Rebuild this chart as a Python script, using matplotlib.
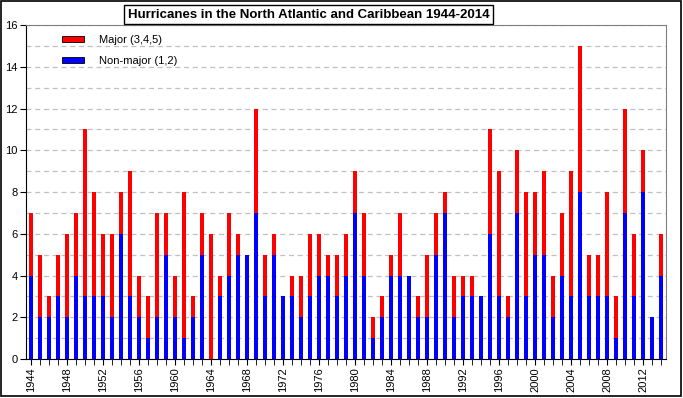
import numpy as np
import matplotlib
matplotlib.use("Agg")
import matplotlib.pyplot as plt
from matplotlib.patches import Patch

years = np.arange(1944, 2015)
# non-major (cat 1,2) and total hurricanes per season
nonmajor = [4, 2, 2, 3, 2, 4, 3, 3, 3, 2, 6, 3, 2, 1, 2, 5, 2, 1, 2, 5,
            0, 3, 4, 5, 5, 7, 3, 5, 3, 3, 2, 3, 4, 4, 3, 4, 7, 4, 1, 2,
            4, 4, 4, 2, 2, 5, 7, 2, 3, 3, 3, 6, 3, 2, 7, 3, 5, 5, 2, 4,
            3, 8, 3, 3, 3, 1, 7, 3, 8, 2, 4]
total = [7, 5, 3, 5, 6, 7, 11, 8, 6, 6, 8, 9, 4, 3, 7, 7, 4, 8, 3, 7,
         6, 4, 7, 6, 5, 12, 5, 6, 3, 4, 4, 6, 6, 5, 5, 6, 9, 7, 2, 3,
         5, 7, 4, 3, 5, 7, 8, 4, 4, 4, 3, 11, 9, 3, 10, 8, 8, 9, 4, 7,
         9, 15, 5, 5, 8, 3, 12, 6, 10, 2, 6]
nonmajor = np.array(nonmajor)
major = np.array(total) - nonmajor

plt.rcParams['font.family'] = ['Liberation Sans', 'DejaVu Sans']

fig = plt.figure(figsize=(6.83, 3.98), dpi=100)
ax = fig.add_axes([0.038, 0.098, 0.937, 0.839])

ax.bar(years, nonmajor, width=0.45, color='#0000ff', zorder=3)
ax.bar(years, major, width=0.45, bottom=nonmajor, color='#ff0000', zorder=3)

ax.set_xlim(1943.45, 2014.55)
ax.set_ylim(0, 16)
ax.set_yticks(np.arange(0, 17, 2))
ax.set_yticks(np.arange(0, 17, 1), minor=True)
ax.tick_params(axis='y', which='minor', length=0)
ax.grid(axis='y', which='both', linestyle=(0, (4, 3)), color='#c0c0c0', linewidth=0.9, zorder=0)

ax.set_xticks(years, minor=True)
ax.set_xticks(years[::4])
ax.set_xticklabels([str(y) for y in years[::4]], rotation=90)
ax.tick_params(axis='x', which='both', length=4, direction='out', labelsize=8, pad=2)
ax.tick_params(axis='y', which='major', length=4, labelsize=8, pad=2)

for s in ['top', 'right']:
    ax.spines[s].set_color('#808080')
for s in ['left', 'bottom']:
    ax.spines[s].set_color('black')

handles = [Patch(facecolor='#ff0000', edgecolor='black', linewidth=0.6),
           Patch(facecolor='#0000ff', edgecolor='black', linewidth=0.6)]
ax.legend(handles, ['Major (3,4,5)', 'Non-major (1,2)'], loc='upper left',
          bbox_to_anchor=(0.04, 1.0), frameon=False, fontsize=8,
          handlelength=2.0, handleheight=0.5, handletextpad=1.4, labelspacing=1.0)

fig.text(0.452, 0.963, 'Hurricanes in the North Atlantic and Caribbean 1944-2014',
         ha='center', va='center', fontsize=9.5, fontweight='bold',
         bbox=dict(facecolor='white', edgecolor='black', linewidth=1.0, pad=2.5))

fig.patches.append(plt.Rectangle((0.001, 0.004), 0.996, 0.994, transform=fig.transFigure,
                                 fill=False, edgecolor='black', linewidth=1.2))

fig.savefig('out.png', dpi=100)
